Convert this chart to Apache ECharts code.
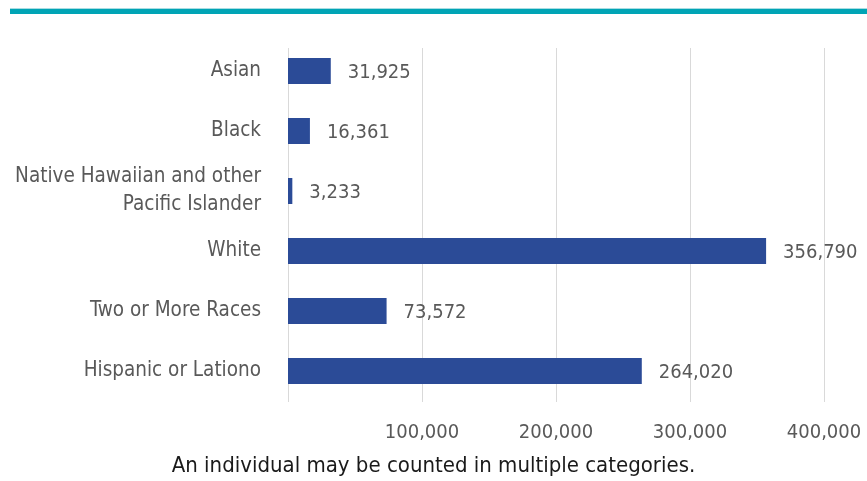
<!DOCTYPE html>
<html>
<head>
<meta charset="utf-8">
<script src="https://cdn.jsdelivr.net/npm/echarts@6/dist/echarts.min.js"></script>
<style>
  html, body { margin: 0; padding: 0; background: #fff; }
  #chart { width: 867px; height: 481px; }
</style>
</head>
<body>
<div id="chart"></div>
<script>
// Population by race / ethnicity
const categories = [
  'Asian',
  'Black',
  'Native Hawaiian and other\nPacific Islander',
  'White',
  'Two or More Races',
  'Hispanic or Lationo'
];
const values = [31925, 16361, 3233, 356790, 73572, 264020];
const tickValues = [100000, 200000, 300000, 400000];
const footnote = 'An individual may be counted in multiple categories.';

const FONT = '"DejaVu Sans Condensed", "Liberation Sans Narrow", sans-serif';
const TEXT = '#595959';
const GRID_LEFT = 288;
const GRID_RIGHT = 867 - 824;

const fmt = v => v.toLocaleString('en-US');

const chart = echarts.init(document.getElementById('chart'));
chart.setOption({
  animation: false,
  backgroundColor: '#ffffff',
  graphic: [
    { type: 'rect', shape: { x: 10, y: 8, width: 857, height: 1 }, style: { fill: '#a8dde3' } },
    { type: 'rect', shape: { x: 10, y: 9, width: 857, height: 5 }, style: { fill: '#00a4b5' } },
    {
      type: 'text', left: 'center', top: 455,
      style: { text: footnote, font: '22px ' + FONT, fill: '#1a1a1a' }
    }
  ],
  grid: [
    // bars
    { left: GRID_LEFT, right: GRID_RIGHT, top: 41, bottom: 80, containLabel: false },
    // vertical gridlines
    { left: GRID_LEFT, right: GRID_RIGHT, top: 48, bottom: 79, containLabel: false }
  ],
  xAxis: [
    {
      gridIndex: 0, type: 'value', min: 0, max: 400000, interval: 100000,
      axisLine: { show: false }, axisTick: { show: false }, splitLine: { show: false },
      axisLabel: {
        margin: 22, color: TEXT, fontFamily: FONT, fontSize: 20,
        formatter: v => (tickValues.includes(v) ? fmt(v) : '')
      }
    },
    {
      gridIndex: 1, type: 'value', min: 0, max: 400000, interval: 100000,
      axisLine: { show: false }, axisTick: { show: false }, axisLabel: { show: false },
      splitLine: { show: true, lineStyle: { color: '#d9d9d9', width: 1 } }
    }
  ],
  yAxis: [
    {
      gridIndex: 0, type: 'category', data: categories, inverse: true,
      axisLine: { show: false }, axisTick: { show: false }, splitLine: { show: false },
      axisLabel: {
        margin: 27, color: TEXT, fontFamily: FONT, fontSize: 20.5,
        lineHeight: 28, align: 'right', padding: [4, 0, 0, 0]
      }
    },
    {
      gridIndex: 1, type: 'category', data: categories, show: false
    }
  ],
  series: [
    {
      type: 'bar', xAxisIndex: 0, yAxisIndex: 0, data: values,
      barWidth: 26,
      itemStyle: { color: '#2b4b97' },
      label: {
        show: true, position: 'right', distance: 17,
        color: TEXT, fontFamily: FONT, fontSize: 20,
        offset: [0, 2],
        formatter: p => fmt(p.value)
      }
    }
  ]
});
</script>
</body>
</html>
